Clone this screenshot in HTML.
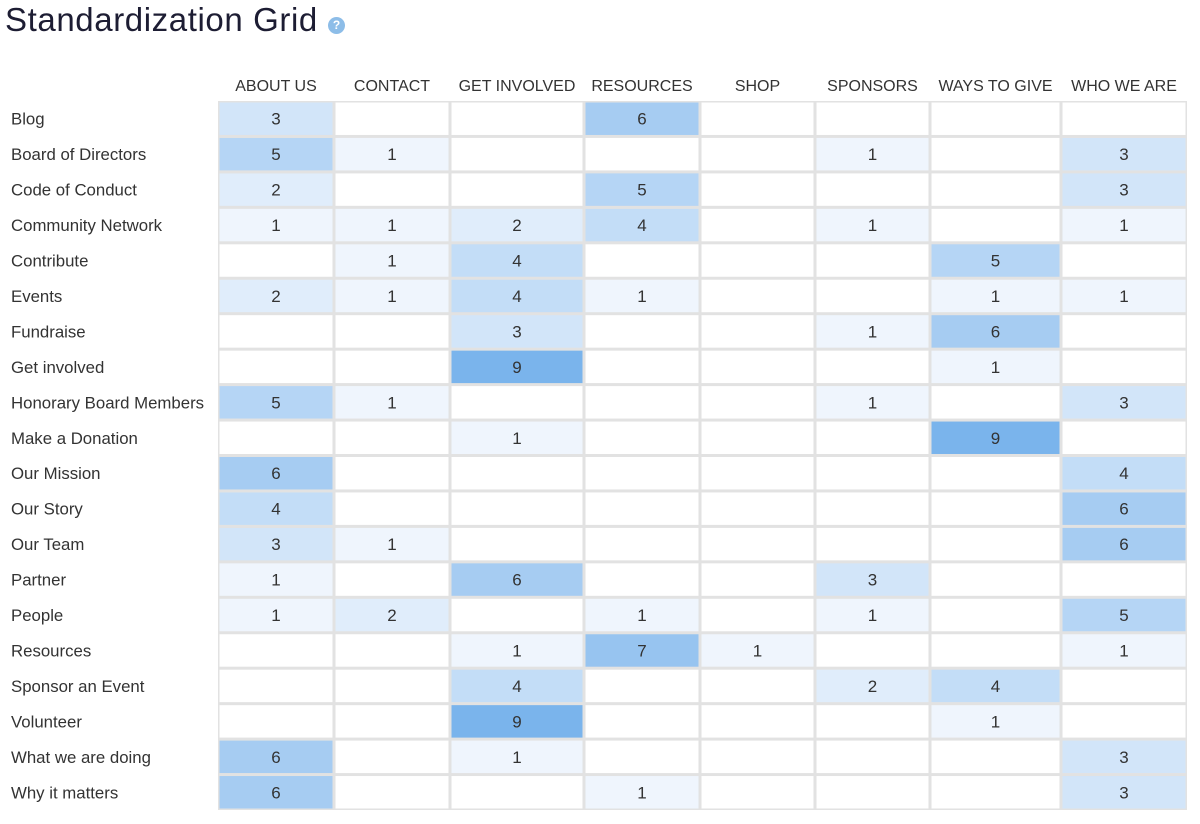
<!DOCTYPE html>
<html><head><meta charset="utf-8"><style>
body{margin:0;background:#fff;width:1200px;height:824px;overflow:hidden;font-family:"Liberation Sans",sans-serif;}
#title{position:absolute;left:5px;top:1px;font-size:33px;letter-spacing:0.6px;color:#1d1d33;}
#help{position:absolute;left:328px;top:17px;width:17px;height:17px;border-radius:50%;background:#8dbde8;color:#fff;font-size:12px;font-weight:bold;text-align:center;line-height:17px;}
svg{position:absolute;left:0;top:0}
</style></head><body>
<div id="title">Standardization Grid</div>
<div id="help">?</div>
<svg id="chart" width="1200" height="824"></svg>
<script>
const columns=["ABOUT US","CONTACT","GET INVOLVED","RESOURCES","SHOP","SPONSORS","WAYS TO GIVE","WHO WE ARE"];
const rows=["Blog","Board of Directors","Code of Conduct","Community Network","Contribute","Events","Fundraise","Get involved","Honorary Board Members","Make a Donation","Our Mission","Our Story","Our Team","Partner","People","Resources","Sponsor an Event","Volunteer","What we are doing","Why it matters"];
const values=[
[3,0,0,6,0,0,0,0],
[5,1,0,0,0,1,0,3],
[2,0,0,5,0,0,0,3],
[1,1,2,4,0,1,0,1],
[0,1,4,0,0,0,5,0],
[2,1,4,1,0,0,1,1],
[0,0,3,0,0,1,6,0],
[0,0,9,0,0,0,1,0],
[5,1,0,0,0,1,0,3],
[0,0,1,0,0,0,9,0],
[6,0,0,0,0,0,0,4],
[4,0,0,0,0,0,0,6],
[3,1,0,0,0,0,0,6],
[1,0,6,0,0,3,0,0],
[1,2,0,1,0,1,0,5],
[0,0,1,7,1,0,0,1],
[0,0,4,0,0,2,4,0],
[0,0,9,0,0,0,1,0],
[6,0,1,0,0,0,0,3],
[6,0,0,1,0,0,0,3]];
const colEdges=[218,334,450,584,700,815,930,1061,1187];
const top0=101,rowH=35.45;
const NS="http://www.w3.org/2000/svg";
const svg=document.getElementById('chart');
function mk(t,a){const e=document.createElementNS(NS,t);for(const k in a)e.setAttribute(k,a[k]);svg.appendChild(e);return e;}
function color(v){if(!v)return"#ffffff";const t=(v-1)/8;
const a=[239,245,253],b=[122,180,236];return"rgb("+a.map((x,i)=>Math.round(x+(b[i]-x)*t)).join(",")+")";}
function yOf(r){return top0+r*rowH;}
const bg=mk('rect',{x:colEdges[0],y:top0,width:colEdges[8]-colEdges[0],height:rowH*rows.length,fill:"#e2e2e2"});


columns.forEach((c,j)=>{const t=mk('text',{x:(colEdges[j]+colEdges[j+1])/2,y:91,'text-anchor':'middle','font-size':16,fill:'#333'});t.textContent=c;

});
rows.forEach((r,i)=>{const t=mk('text',{x:11,y:yOf(i)+rowH/2+6,'font-size':16.8,fill:'#333'});t.textContent=r;


values[i].forEach((v,j)=>{const x=colEdges[j]+1.5,y=yOf(i)+1.5;
const c=mk('rect',{x:x,y:y,width:colEdges[j+1]-colEdges[j]-3,height:rowH-3,fill:color(v)});


if(v){const n=mk('text',{x:(colEdges[j]+colEdges[j+1])/2,y:yOf(i)+rowH/2+6,'text-anchor':'middle','font-size':17,fill:'#333'});n.textContent=v;

}});});
</script>
</body></html>
